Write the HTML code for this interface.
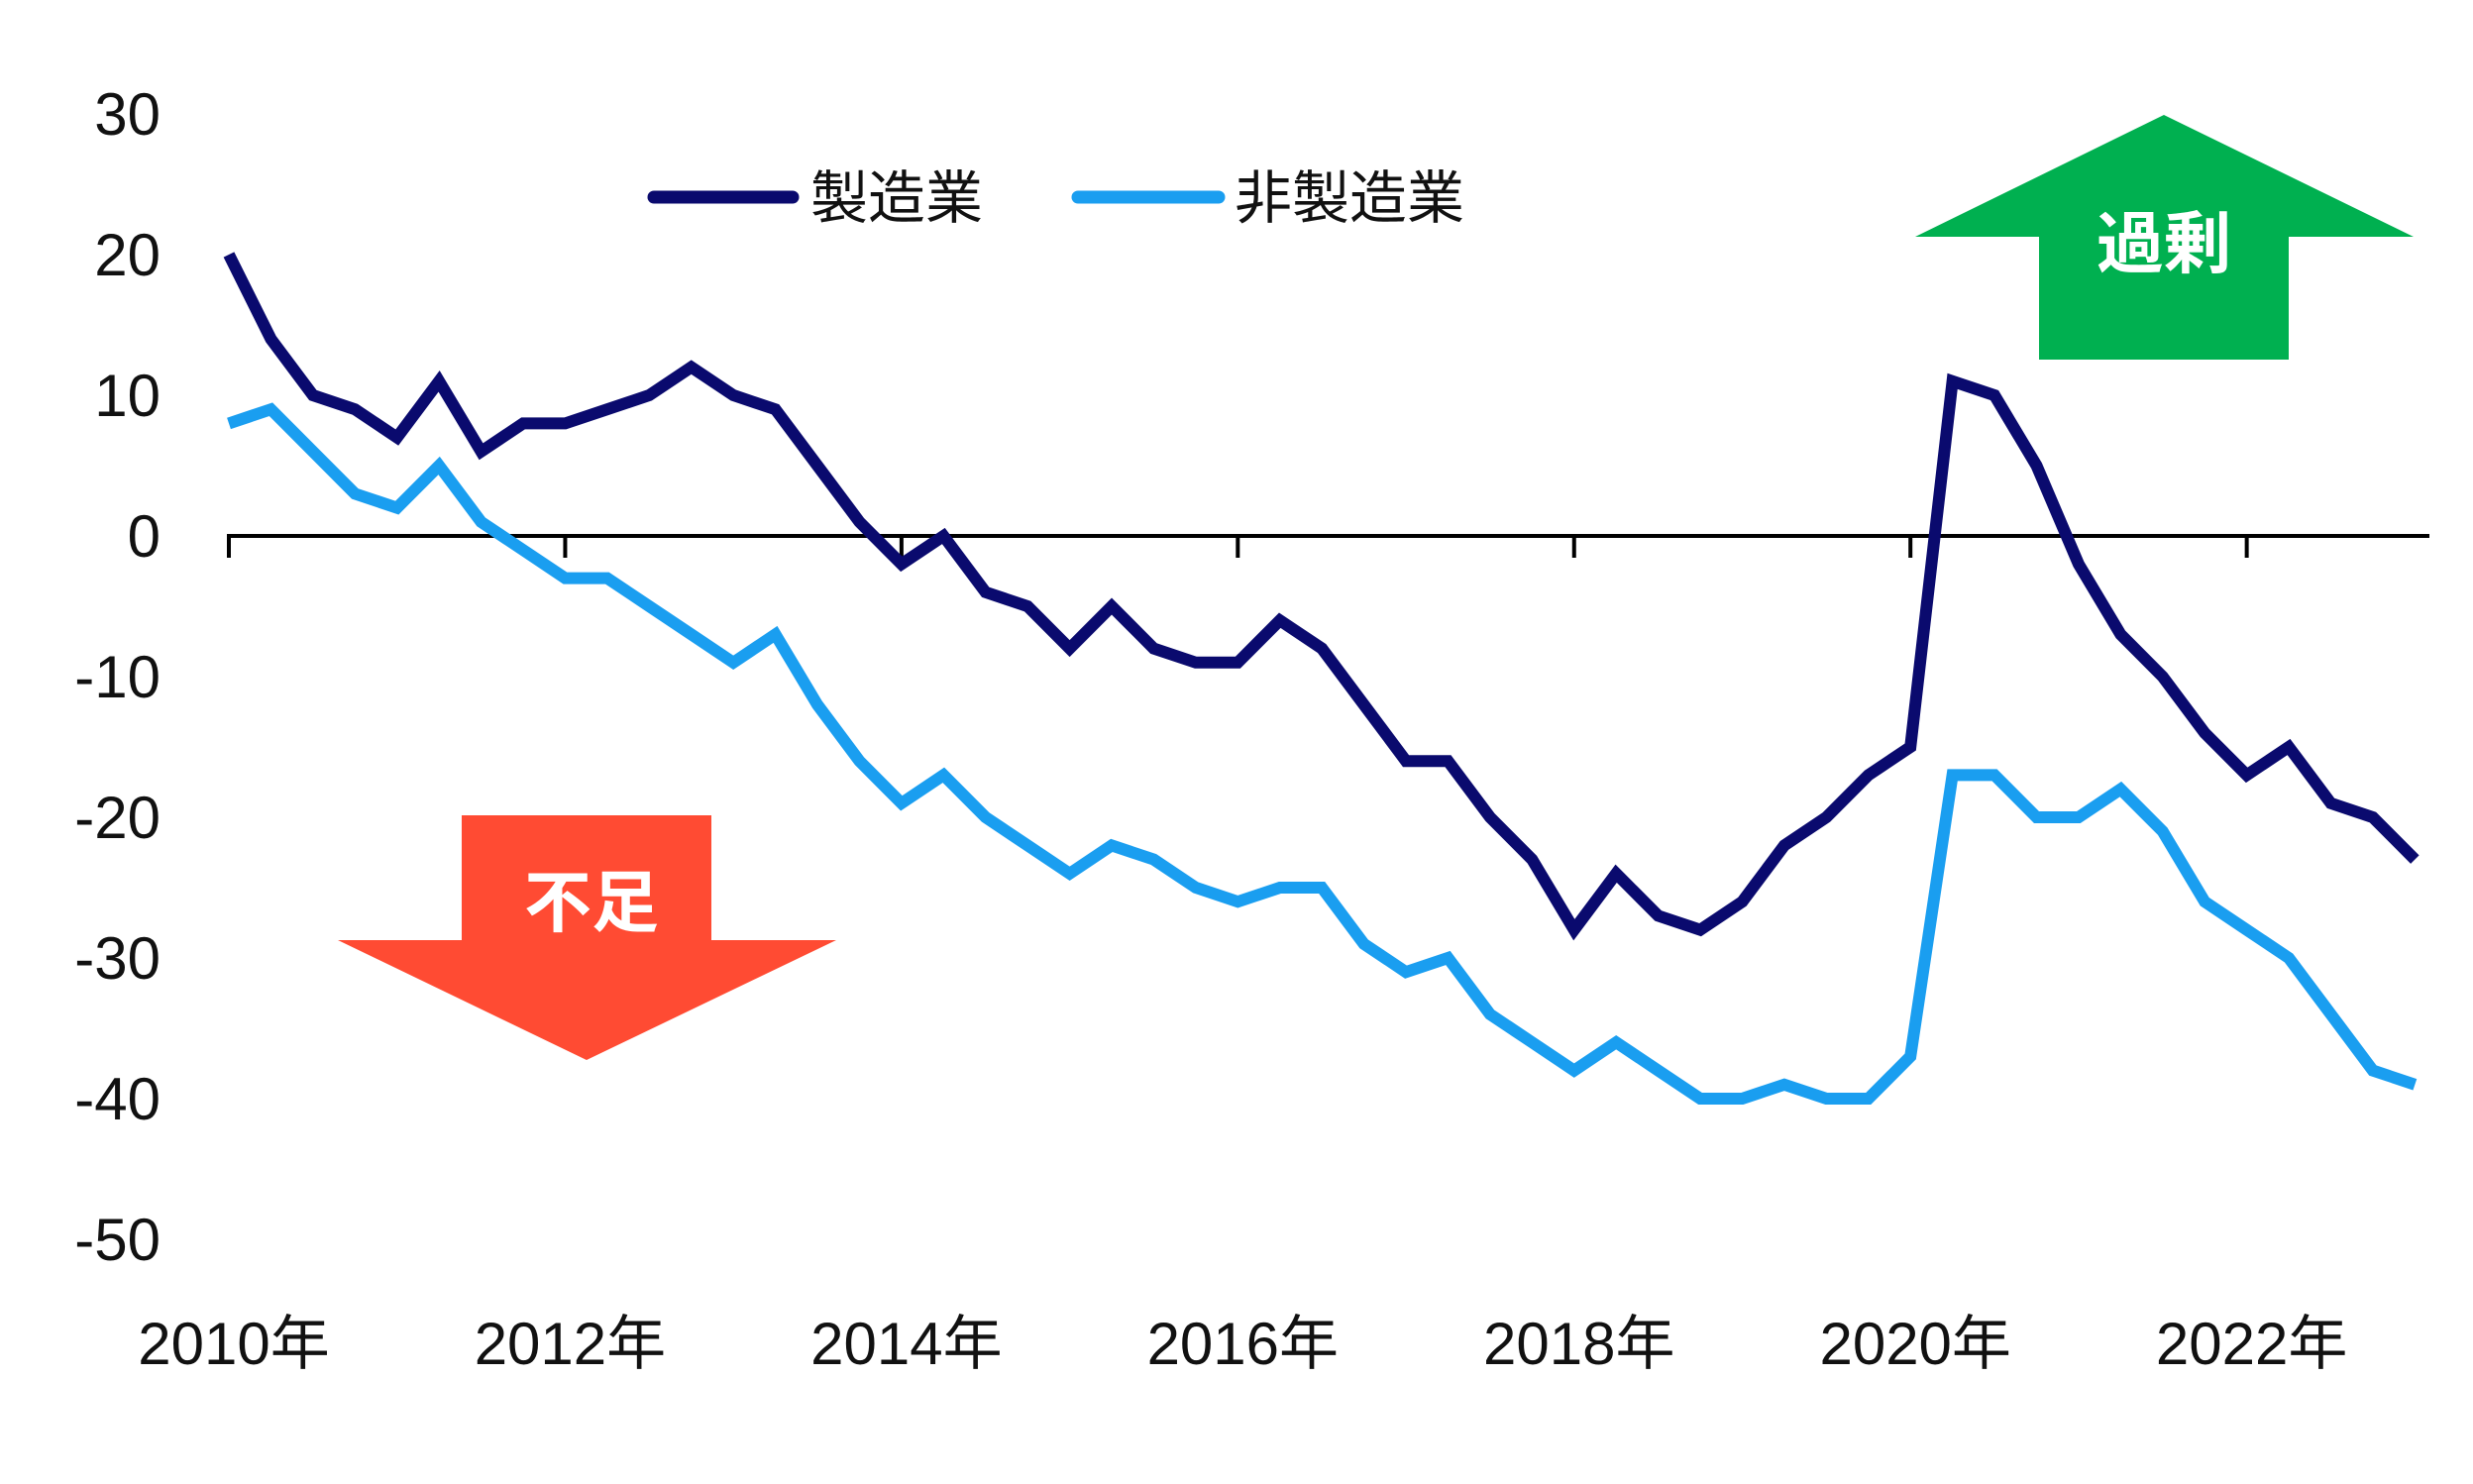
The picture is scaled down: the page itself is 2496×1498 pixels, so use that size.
<!DOCTYPE html>
<html><head><meta charset="utf-8"><style>
body{margin:0;background:#fff;}
svg{display:block;font-family:"Liberation Sans","Noto Sans CJK JP",sans-serif;}
</style></head><body>
<svg id="chart" width="2496" height="1498" viewBox="0 0 2496 1498">
<rect width="2496" height="1498" fill="#fff"/>
<g id="yaxis"></g>
<g id="xaxis"></g>
<g id="series"></g>
<g>
<line x1="660" y1="199" x2="800" y2="199" stroke="#0a0a6e" stroke-width="13" stroke-linecap="round"/>
<text x="818" y="220" font-size="58" fill="#111">製造業</text>
<line x1="1088" y1="199" x2="1230" y2="199" stroke="#1a9ef0" stroke-width="13" stroke-linecap="round"/>
<text x="1246" y="220" font-size="58" fill="#111">非製造業</text>
</g>
<g>
<polygon points="2184,116 2436,239 2310,239 2310,363 2058,363 2058,239 1933,239" fill="#00b050"/>
<text x="2184" y="270" font-size="68" font-weight="bold" fill="#fff" text-anchor="middle">過剰</text>
</g>
<g>
<polygon points="466,823 718,823 718,949 844,949 592,1070 341,949 466,949" fill="#ff4b33"/>
<text x="597" y="935" font-size="68" font-weight="bold" fill="#fff" text-anchor="middle">不足</text>
</g>
</svg>
<script>
const manufacturing=[20,14,10,9,7,11,6,8,8,9,10,12,10,9,5,1,-2,0,-4,-5,-8,-5,-8,-9,-9,-6,-8,-12,-16,-16,-20,-23,-28,-24,-27,-28,-26,-22,-20,-17,-15,11,10,5,-2,-7,-10,-14,-17,-15,-19,-20,-23];
const nonManufacturing=[8,9,6,3,2,5,1,-1,-3,-3,-5,-7,-9,-7,-12,-16,-19,-17,-20,-22,-24,-22,-23,-25,-26,-25,-25,-29,-31,-30,-34,-36,-38,-36,-38,-40,-40,-39,-40,-40,-37,-17,-17,-20,-20,-18,-21,-26,-28,-30,-34,-38,-39];
const yTicks=[30,20,10,0,-10,-20,-30,-40,-50];
const xYears=[2010,2012,2014,2016,2018,2020,2022];
const NS="http://www.w3.org/2000/svg";
function y(v){return 541-v*14.2;}
function x(i){return 231+i*42.43;}
function xYear(yr){return x((yr-2010)*4);}
const ya=document.getElementById('yaxis'),xa=document.getElementById('xaxis'),se=document.getElementById('series');
yTicks.forEach(t=>{const e=document.createElementNS(NS,'text');


e.setAttribute('x',162);e.setAttribute('y',y(t)+21);e.setAttribute('font-size','60');e.setAttribute('text-anchor','end');e.setAttribute('fill','#111');e.textContent=t;ya.appendChild(e);});
const zl=document.createElementNS(NS,'line');


zl.setAttribute('x1',229);zl.setAttribute('x2',2452);zl.setAttribute('y1',y(0));zl.setAttribute('y2',y(0));zl.setAttribute('stroke','#000');zl.setAttribute('stroke-width','4');xa.appendChild(zl);
xYears.forEach(yr=>{const tk=document.createElementNS(NS,'line');


tk.setAttribute('x1',xYear(yr));tk.setAttribute('x2',xYear(yr));tk.setAttribute('y1',y(0));tk.setAttribute('y2',y(0)+22);tk.setAttribute('stroke','#000');tk.setAttribute('stroke-width','4');xa.appendChild(tk);
const e=document.createElementNS(NS,'text');


e.setAttribute('x',xYear(yr)+5);e.setAttribute('y',1377);e.setAttribute('font-size','60');e.setAttribute('text-anchor','middle');e.setAttribute('fill','#111');e.textContent=yr+'年';xa.appendChild(e);});
function line(d,c,n){const p=document.createElementNS(NS,'polyline');


p.setAttribute('points',d.map((v,i)=>x(i)+','+y(v)).join(' '));p.setAttribute('fill','none');p.setAttribute('stroke',c);p.setAttribute('stroke-width','12');p.setAttribute('stroke-linejoin','miter');se.appendChild(p);}
line(nonManufacturing,'#1a9ef0','line-nonmanufacturing');
line(manufacturing,'#0a0a6e','line-manufacturing');
</script>
</body></html>
